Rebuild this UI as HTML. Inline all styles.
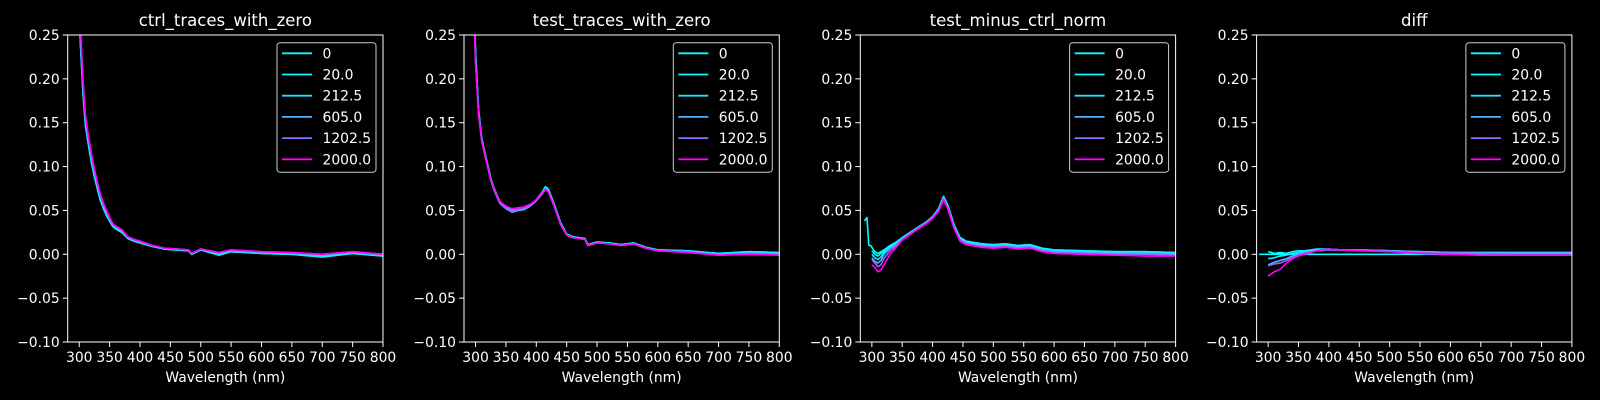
<!DOCTYPE html>
<html><head><meta charset="utf-8"><style>
html,body{margin:0;padding:0;background:#000;}
svg{display:block;font-family:"DejaVu Sans","Liberation Sans",sans-serif;}
</style></head><body>
<svg id="fig" width="1600" height="400" viewBox="0 0 1600 400" xmlns="http://www.w3.org/2000/svg">
<rect width="1600" height="400" fill="#000"/>
</svg>
<script>
// ---------- data ----------
const seriesLabels = ["0","20.0","212.5","605.0","1202.5","2000.0"];
const panelTitles = ["ctrl_traces_with_zero","test_traces_with_zero","test_minus_ctrl_norm","diff"];
const xTicks = [300,350,400,450,500,550,600,650,700,750,800];
const yTicks = [0.25,0.20,0.15,0.10,0.05,0.00,-0.05,-0.10];
const yTickLabels = ["0.25","0.20","0.15","0.10","0.05","0.00","\u22120.05","\u22120.10"];

const p1_wl = [298,302,306,310,315,320,325,330,335,340,345,350,355,360,370,380,390,400,420,440,460,480,485,500,530,550,600,650,700,750,800];
const p1_s0 = [0.31,0.24,0.185,0.148,0.125,0.105,0.088,0.074,0.061,0.052,0.044,0.038,0.032,0.029,0.025,0.018,0.015,0.013,0.009,0.006,0.005,0.004,0.000,0.005,-0.001,0.003,0.001,0.000,-0.003,0.001,-0.002];
const p1_s1 = [0.31,0.24,0.186,0.149,0.126,0.106,0.089,0.075,0.062,0.052,0.044,0.038,0.032,0.029,0.025,0.018,0.015,0.013,0.009,0.006,0.005,0.004,0.000,0.005,-0.001,0.003,0.001,0.000,-0.003,0.001,-0.002];
const p1_s2 = [0.31,0.245,0.19,0.151,0.128,0.108,0.091,0.077,0.064,0.054,0.046,0.039,0.033,0.030,0.026,0.019,0.016,0.014,0.009,0.006,0.005,0.004,0.000,0.005,0.000,0.004,0.002,0.001,-0.002,0.002,-0.001];
const p1_s3 = [0.315,0.25,0.193,0.154,0.130,0.110,0.093,0.079,0.065,0.055,0.047,0.040,0.034,0.031,0.027,0.019,0.016,0.014,0.010,0.007,0.006,0.005,0.001,0.006,0.001,0.004,0.002,0.001,-0.001,0.002,-0.001];
const p1_s4 = [0.32,0.255,0.197,0.157,0.133,0.113,0.095,0.080,0.067,0.057,0.049,0.041,0.035,0.032,0.028,0.020,0.017,0.015,0.010,0.007,0.006,0.005,0.001,0.006,0.002,0.005,0.003,0.002,0.000,0.003,0.000];
const p1_s5 = [0.32,0.26,0.20,0.160,0.135,0.115,0.097,0.082,0.068,0.058,0.050,0.042,0.035,0.032,0.028,0.020,0.017,0.015,0.010,0.007,0.006,0.005,0.001,0.006,0.002,0.005,0.003,0.002,0.000,0.003,0.000];

const p2_wl = [298,300,305,310,315,320,325,330,340,350,360,370,380,390,400,410,415,420,430,440,450,460,480,485,500,520,540,560,580,600,650,700,750,800];
const p2_s0 = [0.28,0.23,0.165,0.133,0.117,0.102,0.087,0.076,0.060,0.054,0.050,0.051,0.052,0.056,0.062,0.071,0.077,0.074,0.056,0.036,0.023,0.020,0.018,0.011,0.014,0.013,0.011,0.013,0.008,0.005,0.004,0.001,0.003,0.002];
const p2_s1 = [0.28,0.23,0.165,0.133,0.117,0.102,0.087,0.076,0.060,0.054,0.050,0.051,0.052,0.056,0.062,0.071,0.077,0.074,0.056,0.036,0.023,0.020,0.018,0.011,0.014,0.013,0.011,0.013,0.008,0.005,0.004,0.001,0.003,0.002];
const p2_s2 = [0.275,0.226,0.163,0.131,0.116,0.101,0.086,0.075,0.059,0.053,0.049,0.050,0.051,0.055,0.061,0.070,0.076,0.073,0.055,0.035,0.022,0.019,0.017,0.010,0.013,0.012,0.011,0.012,0.007,0.004,0.003,0.000,0.002,0.001];
const p2_s3 = [0.27,0.223,0.161,0.130,0.115,0.100,0.085,0.074,0.058,0.052,0.048,0.050,0.051,0.055,0.061,0.069,0.075,0.072,0.054,0.034,0.022,0.019,0.017,0.010,0.013,0.012,0.010,0.012,0.007,0.004,0.003,0.000,0.001,0.000];
const p2_s4 = [0.265,0.22,0.160,0.130,0.114,0.100,0.085,0.074,0.058,0.053,0.049,0.051,0.052,0.056,0.061,0.069,0.074,0.071,0.054,0.034,0.022,0.019,0.017,0.010,0.013,0.012,0.010,0.012,0.007,0.004,0.003,-0.001,0.001,0.000];
const p2_s5 = [0.26,0.218,0.160,0.130,0.115,0.100,0.086,0.075,0.060,0.055,0.052,0.053,0.054,0.057,0.062,0.070,0.074,0.071,0.054,0.034,0.022,0.019,0.017,0.010,0.013,0.012,0.010,0.012,0.007,0.004,0.002,-0.001,0.000,-0.001];

const p3_wl = [288,292,295,298,300,305,310,315,320,330,340,350,370,390,400,410,418,425,435,445,455,480,500,520,540,560,580,600,650,700,750,800];
const p3_s0 = [0.038,0.042,0.010,0.010,0.008,0.003,0.001,0.003,0.005,0.010,0.014,0.019,0.028,0.037,0.043,0.052,0.066,0.056,0.034,0.019,0.015,0.012,0.011,0.012,0.010,0.011,0.007,0.005,0.004,0.003,0.003,0.002];
const p3_s1 = [null,null,null,null,0.004,0.000,-0.002,0.001,0.004,0.009,0.013,0.019,0.028,0.037,0.043,0.052,0.066,0.056,0.034,0.019,0.015,0.012,0.011,0.012,0.010,0.011,0.007,0.005,0.004,0.003,0.003,0.002];
const p3_s2 = [null,null,null,null,0.000,-0.004,-0.006,-0.003,0.002,0.008,0.012,0.018,0.027,0.036,0.042,0.051,0.065,0.055,0.033,0.018,0.014,0.011,0.010,0.011,0.009,0.010,0.006,0.004,0.003,0.002,0.002,0.001];
const p3_s3 = [null,null,null,null,-0.004,-0.008,-0.010,-0.007,0.000,0.007,0.011,0.018,0.027,0.036,0.042,0.051,0.064,0.054,0.032,0.017,0.013,0.010,0.009,0.010,0.008,0.009,0.005,0.003,0.002,0.001,0.001,0.000];
const p3_s4 = [null,null,null,null,-0.006,-0.010,-0.014,-0.012,-0.005,0.004,0.010,0.017,0.027,0.036,0.042,0.050,0.063,0.053,0.031,0.016,0.012,0.009,0.008,0.009,0.007,0.008,0.004,0.002,0.001,0.000,0.000,-0.001];
const p3_s5 = [null,null,null,null,-0.012,-0.015,-0.020,-0.018,-0.012,0.000,0.008,0.016,0.026,0.035,0.041,0.049,0.062,0.052,0.030,0.015,0.011,0.008,0.007,0.008,0.006,0.007,0.003,0.001,0.000,-0.001,-0.002,-0.002];

const p4_wl = [285,300,310,320,330,340,350,360,370,380,400,420,450,500,550,600,650,700,750,800];
const p4_s0 = [0,0,0,0,0,0,0,0,0,0,0,0,0,0,0,0,0,0,0,0];
const p4_s1 = [null,0.003,0.001,0.002,0.001,0.003,0.004,0.004,0.005,0.006,0.006,0.005,0.005,0.004,0.003,0.002,0.002,0.002,0.002,0.002];
const p4_s2 = [null,-0.005,-0.004,-0.002,-0.001,0.001,0.002,0.003,0.004,0.005,0.006,0.005,0.005,0.004,0.003,0.002,0.002,0.002,0.002,0.002];
const p4_s3 = [null,-0.012,-0.009,-0.007,-0.005,-0.002,0.000,0.002,0.003,0.004,0.005,0.005,0.005,0.004,0.003,0.002,0.001,0.001,0.001,0.001];
const p4_s4 = [null,-0.013,-0.011,-0.010,-0.007,-0.004,-0.001,0.001,0.002,0.004,0.005,0.005,0.005,0.003,0.002,0.001,0.001,0.000,0.000,0.000];
const p4_s5 = [null,-0.025,-0.020,-0.017,-0.010,-0.005,-0.002,0.000,0.002,0.004,0.006,0.005,0.004,0.003,0.001,0.000,-0.001,-0.001,-0.001,-0.001];

const panels = [
  {wl:p1_wl, s:[p1_s0,p1_s1,p1_s2,p1_s3,p1_s4,p1_s5]},
  {wl:p2_wl, s:[p2_s0,p2_s1,p2_s2,p2_s3,p2_s4,p2_s5]},
  {wl:p3_wl, s:[p3_s0,p3_s1,p3_s2,p3_s3,p3_s4,p3_s5]},
  {wl:p4_wl, s:[p4_s0,p4_s1,p4_s2,p4_s3,p4_s4,p4_s5]}
];
const colors = ["#00ffff","#03fcff","#1be4ff","#4db2ff","#9966ff","#ff00ff"];

// ---------- drawing ----------
const NS = "http://www.w3.org/2000/svg";
const svg = document.getElementById("fig");
function mk(tag, attrs, parent){
  const e = document.createElementNS(NS, tag);
  for (const k in attrs) e.setAttribute(k, attrs[k]);
  (parent||svg).appendChild(e);
  return e;
}
const X0=281, X1=800, Y0=-0.10, Y1=0.25;
const AW=315.3, AT=35, AB=342;
panels.forEach((p, pi) => {
  const L = 67.7 + pi*396.3, R = L + AW;
  const sx = v => L + (v - X0) / (X1 - X0) * (R - L);
  const sy = v => AB - (v - Y0) / (Y1 - Y0) * (AB - AT);
  const g = mk("g", {});
  
  
  const defs = mk("defs", {}, g);
  const cp = mk("clipPath", {id:"clip"+pi}, defs);
  mk("rect", {x:L, y:AT, width:R-L, height:AB-AT}, cp);
  // title
  const t = mk("text", {x:(L+R)/2, y:26, "text-anchor":"middle", fill:"#fff", "font-size":"16.5"}, g);
  t.textContent = panelTitles[pi];
  
  
  // lines
  const lg = mk("g", {"clip-path":"url(#clip"+pi+")"}, g);
  p.s.forEach((vals, si) => {
    let d = "", pen = false;
    vals.forEach((v, i) => {
      if (v === null) { pen = false; return; }
      d += (pen ? "L" : "M") + sx(p.wl[i]).toFixed(2) + "," + sy(v).toFixed(2);
      pen = true;
    });
    const path = mk("path", {d:d, fill:"none", stroke:colors[si], "stroke-width":"1.6", "stroke-linejoin":"round"}, lg);
    
    
  });
  // frame
  const fr = mk("rect", {x:L, y:AT, width:R-L, height:AB-AT, fill:"none", stroke:"#fff", "stroke-width":"1"}, g);
  
  
  // x ticks
  xTicks.forEach(v => {
    const x = sx(v);
    mk("line", {x1:x, x2:x, y1:AB, y2:AB+5, stroke:"#fff", "stroke-width":"1"}, g);
    const tl = mk("text", {x:x, y:AB+20, "text-anchor":"middle", fill:"#fff", "font-size":"13.9"}, g);
    tl.textContent = v;
    
    
  });
  yTicks.forEach((v, i) => {
    const y = sy(v);
    mk("line", {x1:L-5, x2:L, y1:y, y2:y, stroke:"#fff", "stroke-width":"1"}, g);
    const tl = mk("text", {x:L-8, y:y+5, "text-anchor":"end", fill:"#fff", "font-size":"13.9"}, g);
    tl.textContent = yTickLabels[i];
    
    
  });
  const xl = mk("text", {x:(L+R)/2, y:382, "text-anchor":"middle", fill:"#fff", "font-size":"13.9"}, g);
  xl.textContent = "Wavelength (nm)";
  
  
  // legend
  const lgx = R - 106, lgy = 42.7;
  const leg = mk("g", {}, g);
  
  
  mk("rect", {x:lgx, y:lgy, width:99, height:129.5, rx:3, fill:"#000", "fill-opacity":"0.8", stroke:"#cccccc", "stroke-width":"1"}, leg);
  seriesLabels.forEach((lab, si) => {
    const y = 53.3 + si*21.2;
    mk("line", {x1:lgx+5, x2:lgx+35, y1:y, y2:y, stroke:colors[si], "stroke-width":"1.8"}, leg);
    const tx = mk("text", {x:lgx+45.5, y:y+5, fill:"#fff", "font-size":"13.9"}, leg);
    tx.textContent = lab;
    
    
  });
});
</script>
</body></html>
